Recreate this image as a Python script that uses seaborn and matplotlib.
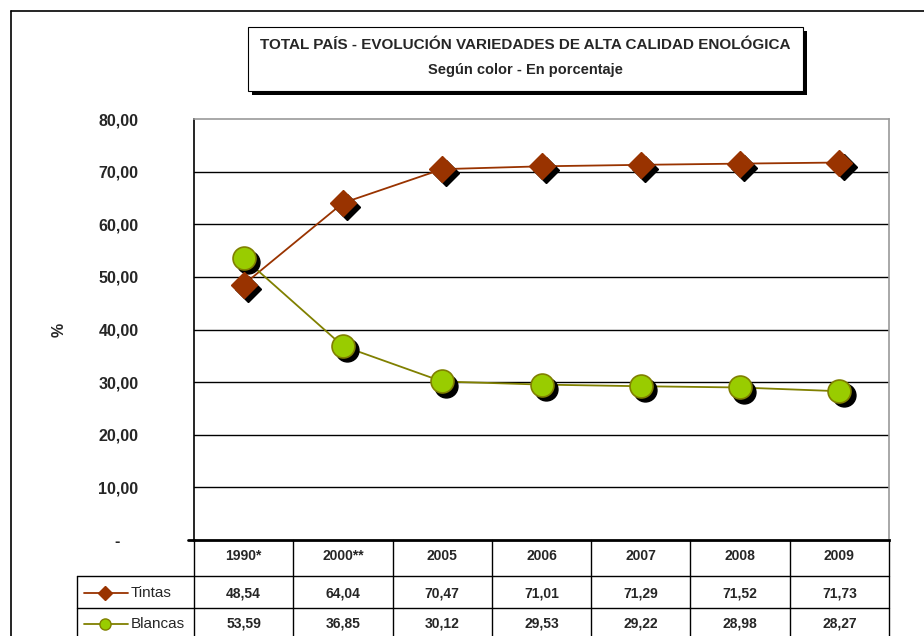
import matplotlib
matplotlib.use("Agg")
import matplotlib.pyplot as plt
import matplotlib.transforms as mtransforms
from matplotlib.patches import Rectangle
from matplotlib.lines import Line2D
import seaborn as sns
import pandas as pd

categories = ["1990*", "2000**", "2005", "2006", "2007", "2008", "2009"]
tintas = [48.54, 64.04, 70.47, 71.01, 71.29, 71.52, 71.73]
blancas = [53.59, 36.85, 30.12, 29.53, 29.22, 28.98, 28.27]
tintas_lbl = ["48,54", "64,04", "70,47", "71,01", "71,29", "71,52", "71,73"]
blancas_lbl = ["53,59", "36,85", "30,12", "29,53", "29,22", "28,98", "28,27"]
yticks = [0, 10, 20, 30, 40, 50, 60, 70, 80]
ytick_labels = ["-    ", "10,00", "20,00", "30,00", "40,00", "50,00", "60,00", "70,00", "80,00"]
series_names = ["Tintas", "Blancas"]
title = "TOTAL PAÍS - EVOLUCIÓN VARIEDADES DE ALTA CALIDAD ENOLÓGICA"
subtitle = "Según color - En porcentaje"

sns.set_style("white")
plt.rcParams['font.family'] = ['Liberation Sans Narrow', 'Liberation Sans', 'DejaVu Sans']

W, H = 924, 636
fig = plt.figure(figsize=(W / 100, H / 100), dpi=100)

def fx(px):
    return px / W

def fy(py):
    return 1 - py / H

L, R, T, B = 194, 889, 119, 540
ax = fig.add_axes([fx(L), fy(B), fx(R - L), (B - T) / H])

df = pd.DataFrame({
    "x": list(range(len(categories))) * 2,
    "y": tintas + blancas,
    "serie": [series_names[0]] * len(categories) + [series_names[1]] * len(categories),
})

c_t = "#993300"
c_b_line = "#808000"
c_b_fill = "#99CC00"

sns.lineplot(data=df, x="x", y="y", hue="serie", palette={"Tintas": c_t, "Blancas": c_b_line},
             ax=ax, legend=False, sort=False, linewidth=1.3, zorder=3)

xs = list(range(len(categories)))
shadow = ax.transData + mtransforms.ScaledTranslation(3 / 72, -3 / 72, fig.dpi_scale_trans)
ax.plot(xs, tintas, linestyle="none", marker="D", markersize=13, color="black", transform=shadow, zorder=4)
ax.plot(xs, tintas, linestyle="none", marker="D", markersize=13, color=c_t, markeredgecolor=c_t, zorder=5)
ax.plot(xs, blancas, linestyle="none", marker="o", markersize=16.5, color="black", transform=shadow, zorder=4)
ax.plot(xs, blancas, linestyle="none", marker="o", markersize=16.5, markerfacecolor=c_b_fill,
        markeredgecolor=c_b_line, markeredgewidth=1.2, zorder=5)

ax.set_xlim(-0.5, len(categories) - 0.5)
ax.set_ylim(0, 80)
ax.set_xticks([])
ax.set_yticks(yticks)
ax.set_yticklabels(ytick_labels, fontsize=11.5, fontweight="bold")
ax.tick_params(axis="y", length=6, width=1, color="black", direction="out", pad=34)
for yv in yticks[1:-1]:
    ax.axhline(yv, color="black", linewidth=1, zorder=1)
ax.set_xlabel("")
ax.set_ylabel("%", fontsize=11.5, fontweight="bold", labelpad=0)
ax.yaxis.set_label_coords((67 - L) / (R - L), 0.5)
ax.spines["left"].set_color("black")
ax.spines["left"].set_linewidth(1.2)
ax.spines["bottom"].set_color("black")
ax.spines["bottom"].set_linewidth(2)
ax.spines["top"].set_color("#999999")
ax.spines["right"].set_color("#999999")
ax.spines["top"].set_linewidth(1.2)
ax.spines["right"].set_linewidth(1.2)

# zero line extending left
fig.add_artist(Line2D([fx(188), fx(L)], [fy(B), fy(B)], color="black", linewidth=2))

# data table below the plot
colw = (R - L) / len(categories)
lw = 1.0
fig.add_artist(Line2D([fx(L), fx(R)], [fy(576), fy(576)], color="black", linewidth=lw))
fig.add_artist(Line2D([fx(77), fx(L)], [fy(576), fy(576)], color="black", linewidth=lw))
fig.add_artist(Line2D([fx(77), fx(R)], [fy(608), fy(608)], color="black", linewidth=lw))
for k in range(len(categories) + 1):
    xp = L + k * colw
    fig.add_artist(Line2D([fx(xp), fx(xp)], [fy(540), fy(640)], color="black", linewidth=lw))
fig.add_artist(Line2D([fx(77), fx(77)], [fy(576), fy(640)], color="black", linewidth=lw))

tfs = 10
for k, cat in enumerate(categories):
    xc = L + (k + 0.5) * colw
    fig.text(fx(xc), fy(556), cat, ha="center", va="center", fontsize=tfs, fontweight="bold")
    fig.text(fx(xc), fy(593), tintas_lbl[k], ha="center", va="center", fontsize=tfs, fontweight="bold")
    fig.text(fx(xc), fy(624), blancas_lbl[k], ha="center", va="center", fontsize=tfs, fontweight="bold")

# legend keys in table
fig.add_artist(Line2D([fx(84), fx(128)], [fy(593), fy(593)], color=c_t, linewidth=1.3))
fig.add_artist(Line2D([fx(105)], [fy(593)], marker="D", markersize=7, color=c_t, linestyle="none"))
fig.text(fx(131), fy(593), series_names[0], ha="left", va="center", fontsize=11)
fig.add_artist(Line2D([fx(84), fx(128)], [fy(624), fy(624)], color=c_b_line, linewidth=1.3))
fig.add_artist(Line2D([fx(105)], [fy(624)], marker="o", markersize=8, markerfacecolor=c_b_fill,
                      markeredgecolor=c_b_line, linestyle="none"))
fig.text(fx(131), fy(624), series_names[1], ha="left", va="center", fontsize=11)

# title box with shadow
bx0, by0, bx1, by1 = 248, 27, 803, 91
fig.add_artist(Rectangle((fx(bx0 + 4), fy(by1 + 4)), fx(bx1 - bx0), (by1 - by0) / H,
                         facecolor="black", edgecolor="black", linewidth=0))
fig.add_artist(Rectangle((fx(bx0), fy(by1)), fx(bx1 - bx0), (by1 - by0) / H,
                         facecolor="white", edgecolor="black", linewidth=0.8))
fig.text(fx((bx0 + bx1) / 2), fy(45), title, ha="center", va="center", fontsize=11, fontweight="bold")
fig.text(fx((bx0 + bx1) / 2), fy(70), subtitle, ha="center", va="center", fontsize=10.5, fontweight="bold")

# outer chart border
fig.add_artist(Line2D([fx(11), fx(11)], [fy(11), fy(640)], color="black", linewidth=1.2))
fig.add_artist(Line2D([fx(11), fx(930)], [fy(11), fy(11)], color="black", linewidth=1.2))

fig.savefig("out.png", dpi=100)
